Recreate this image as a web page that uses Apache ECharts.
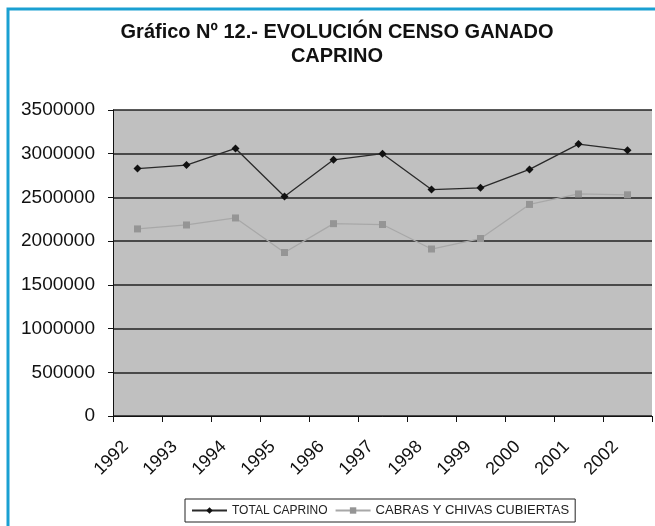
<!DOCTYPE html>
<html><head><meta charset="utf-8">
<script src="https://cdn.jsdelivr.net/npm/echarts@6/dist/echarts.min.js"></script>
<style>html,body{margin:0;padding:0;background:#fff}#c{width:655px;height:526px}</style>
</head><body><div id="c"></div>
<script>
const years = ['1992','1993','1994','1995','1996','1997','1998','1999','2000','2001','2002'];
const totalCaprino = [2830000,2870000,3060000,2510000,2930000,3000000,2590000,2610000,2820000,3110000,3040000];
const cabrasChivas = [2140000,2185000,2265000,1870000,2200000,2190000,1910000,2030000,2420000,2540000,2530000];
const yTicks = [0,500000,1000000,1500000,2000000,2500000,3000000,3500000];
const seriesNames = ['TOTAL CAPRINO','CABRAS Y CHIVAS CUBIERTAS'];

const chart = echarts.init(document.getElementById('c'), null, {renderer:'canvas'});
chart.setOption({
  animation:false,
  backgroundColor:'#fff',
  textStyle:{fontFamily:'Liberation Sans, Arial, sans-serif'},
  graphic:[
    {type:'rect', shape:{x:8,y:9,width:660,height:540}, style:{fill:'none', stroke:'#1aa0d2', lineWidth:3}, z:100}
  ],
  title:{
    text:'Gráfico Nº 12.- EVOLUCIÓN CENSO GANADO\nCAPRINO',
    left:332, textAlign:'center', top:15,
    textStyle:{fontSize:20, fontWeight:'bold', color:'#111', lineHeight:24, fontFamily:'Liberation Sans, Arial, sans-serif'}
  },
  legend:{
    data:seriesNames,
    left:185, top:499,
    orient:'horizontal',
    itemWidth:35, itemHeight:8, itemGap:7,
    borderColor:'#222', borderWidth:1, padding:[5,6],
    backgroundColor:'#fff',
    formatter:function(n){return n===seriesNames[1] ? '{b|'+n+'}' : '{a|'+n+'}';},
    textStyle:{color:'#222', rich:{a:{fontSize:12, color:'#222'}, b:{fontSize:13, color:'#222'}}}
  },
  grid:{left:113, right:3, top:110, bottom:110, show:true, backgroundColor:'#c0c0c0', borderWidth:0},
  xAxis:{
    type:'category', data:years, boundaryGap:true,
    axisLine:{show:true, lineStyle:{color:'#111', width:1}},
    axisTick:{show:true, interval:0, length:6, lineStyle:{color:'#111'}},
    axisLabel:{interval:0, rotate:45, fontSize:18, color:'#111', margin:16, padding:[0,17,0,0]},
    splitLine:{show:false}
  },
  yAxis:{
    type:'value', min:0, max:3500000, interval:500000,
    axisLine:{show:true, lineStyle:{color:'#111', width:1}},
    axisTick:{show:true, length:5, lineStyle:{color:'#111'}},
    axisLabel:{fontSize:19, color:'#111', margin:18, formatter:function(v){return String(v);}},
    splitLine:{show:true, lineStyle:{color:'#222', width:1.5}}
  },
  series:[
    {name:seriesNames[0], type:'line', data:totalCaprino, symbol:'diamond', symbolSize:8,
     lineStyle:{color:'#2a2a2a', width:1.3}, itemStyle:{color:'#111'}},
    {name:seriesNames[1], type:'line', data:cabrasChivas, symbol:'rect', symbolSize:7,
     lineStyle:{color:'#a8a8a8', width:1.3}, itemStyle:{color:'#959595'}}
  ]
});
</script></body></html>
